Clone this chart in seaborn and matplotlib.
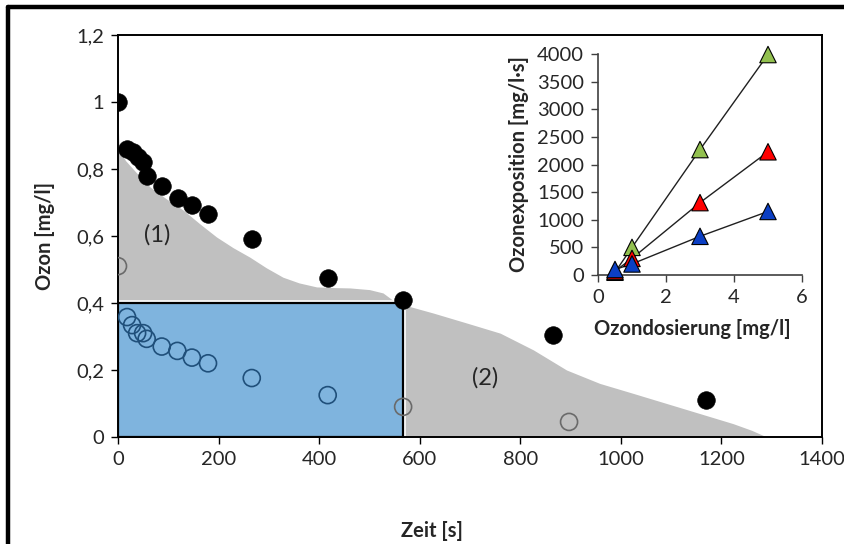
import numpy as np
import pandas as pd
import matplotlib
matplotlib.use("Agg")
import matplotlib.pyplot as plt
import seaborn as sns

# ---------------- data ----------------
t_filled = [0, 18, 30, 40, 50, 57, 87, 119, 147, 178, 266, 417, 567, 865, 1169]
c_filled = [1.0, 0.86, 0.85, 0.835, 0.82, 0.78, 0.75, 0.713, 0.693, 0.665, 0.59, 0.475, 0.41, 0.305, 0.11]

t_open = [0, 18, 28, 38, 50, 57, 87, 118, 147, 179, 266, 417, 567, 897]
c_open = [0.51, 0.358, 0.334, 0.31, 0.31, 0.293, 0.27, 0.257, 0.237, 0.22, 0.176, 0.125, 0.09, 0.045]

t_area = [0, 2, 5, 15, 30, 45, 64, 97, 130, 163, 196, 229, 262, 295, 328, 360, 395, 430,
          461, 500, 527, 545, 567, 627, 694, 760, 826, 892, 958, 1025, 1091, 1157, 1223, 1260, 1290]
c_area = [0.95, 0.87, 0.85, 0.825, 0.80, 0.775, 0.746, 0.71, 0.677, 0.636, 0.597, 0.565, 0.537,
          0.505, 0.477, 0.46, 0.448, 0.446, 0.445, 0.44, 0.43, 0.41, 0.395, 0.37, 0.34, 0.31,
          0.26, 0.20, 0.16, 0.13, 0.10, 0.07, 0.04, 0.02, 0.0]

rect_t = [0, 567]
rect_c = 0.4

x_ticks = [0, 200, 400, 600, 800, 1000, 1200, 1400]
y_ticks = [0, 0.2, 0.4, 0.6, 0.8, 1.0, 1.2]
y_ticklabels = ["0", "0,2", "0,4", "0,6", "0,8", "1", "1,2"]

dose = [0.5, 1, 3, 5]
exp_green = [50, 500, 2270, 3990]
exp_red = [70, 300, 1310, 2230]
exp_blue = [100, 200, 700, 1150]
inset_xticks = [0, 2, 4, 6]
inset_yticks = [0, 500, 1000, 1500, 2000, 2500, 3000, 3500, 4000]

# ---------------- style ----------------
sns.set_theme(style="white")
plt.rcParams["font.family"] = ["Lato", "DejaVu Sans"]
txt = "#262626"
fs_tick = 14.5
fs_lab = 14.5

fig = plt.figure(figsize=(8.45, 5.44), dpi=100)

# outer frame (left and top visible)
fig.add_artist(plt.Line2D([8 / 845, 8 / 845], [0, 1 - 7 / 544], color="black", lw=3.2,
                          transform=fig.transFigure))
fig.add_artist(plt.Line2D([8 / 845, 1], [1 - 7 / 544, 1 - 7 / 544], color="black", lw=3.2,
                          transform=fig.transFigure))

ax = fig.add_axes([118 / 845, 1 - 437 / 544, 704 / 845, 402 / 544])
ax.set_xlim(0, 1400)
ax.set_ylim(0, 1.2)

# gray area
ax.fill_between(t_area, c_area, 0, color="#c0c0c0", lw=0, zorder=1)

# blue rectangle
ax.fill_between(rect_t, [rect_c, rect_c], 0, facecolor="none", edgecolor="white", lw=4, zorder=2)
ax.fill_between(rect_t, [rect_c, rect_c], 0, facecolor="#7fb4de", edgecolor="black", lw=1.6, zorder=3)

# open circles
df_open = pd.DataFrame({"t": t_open, "c": c_open})
edge_cols = ["#1f4f7a" if (0 < t < rect_t[1] and c < rect_c) else "#6a6a6a"
             for t, c in zip(t_open, c_open)]
sns.scatterplot(data=df_open, x="t", y="c", ax=ax, marker="o", s=150,
                facecolor="none", edgecolor=edge_cols, linewidth=1.2, zorder=4)

# filled circles
df_fill = pd.DataFrame({"t": t_filled, "c": c_filled})
sns.scatterplot(data=df_fill, x="t", y="c", ax=ax, marker="o", s=160,
                color="black", edgecolor="black", linewidth=0.5, zorder=5)

ax.text(78, 0.603, "(1)", fontsize=17, color=txt, ha="center", va="center", zorder=6)
ax.text(730, 0.176, "(2)", fontsize=17, color=txt, ha="center", va="center", zorder=6)

ax.set_xticks(x_ticks)
ax.set_xticklabels([str(v) for v in x_ticks])
ax.set_yticks(y_ticks)
ax.set_yticklabels(y_ticklabels)
ax.tick_params(axis="both", which="both", direction="out", length=5, width=1, colors="black",
               labelsize=fs_tick, labelcolor=txt, bottom=True, left=True, pad=5)
for sp in ax.spines.values():
    sp.set_color("black")
    sp.set_linewidth(1.4)
ax.set_xlabel("Zeit [s]", fontsize=fs_lab, fontweight="bold", color=txt)
ax.set_ylabel("Ozon [mg/l]", fontsize=fs_lab, fontweight="bold", color=txt)
ax.xaxis.set_label_coords(0.446, -0.21)
ax.yaxis.set_label_coords(-0.09, 0.5)

# ---------------- inset ----------------
ax2 = fig.add_axes([598 / 845, 1 - 275 / 544, 204 / 845, 221 / 544])
ax2.set_xlim(0, 6)
ax2.set_ylim(0, 4000)
ax2.patch.set_alpha(0)

df_in = pd.concat([
    pd.DataFrame({"dose": dose, "exp": exp_green, "series": "green"}),
    pd.DataFrame({"dose": dose, "exp": exp_red, "series": "red"}),
    pd.DataFrame({"dose": dose, "exp": exp_blue, "series": "blue"}),
], ignore_index=True)

sns.lineplot(data=df_in, x="dose", y="exp", units="series", estimator=None, ax=ax2,
             color="#202020", lw=1.0, zorder=2)
sns.scatterplot(data=df_in, x="dose", y="exp", hue="series", ax=ax2, marker="^", s=140,
                palette={"green": "#92c04f", "red": "#ff0000", "blue": "#0b3fc4"},
                edgecolor="black", linewidth=0.8, legend=False, zorder=3, clip_on=False)

ax2.set_xticks(inset_xticks)
ax2.set_yticks(inset_yticks)
ax2.tick_params(axis="both", direction="out", length=5, width=1, colors="#404040",
                labelsize=fs_tick, labelcolor=txt, bottom=True, left=True, pad=5)
for side in ["top", "right"]:
    ax2.spines[side].set_visible(False)
for side in ["left", "bottom"]:
    ax2.spines[side].set_color("#404040")
    ax2.spines[side].set_linewidth(1.2)
ax2.set_xlabel("Ozondosierung [mg/l]", fontsize=fs_lab, fontweight="bold", color=txt)
ax2.set_ylabel("Ozonexposition [mg/l·s]", fontsize=fs_lab, fontweight="bold", color=txt)
ax2.xaxis.set_label_coords(0.46, -0.2)
ax2.yaxis.set_label_coords(-0.34, 0.5)

fig.savefig("out.png", dpi=100)
